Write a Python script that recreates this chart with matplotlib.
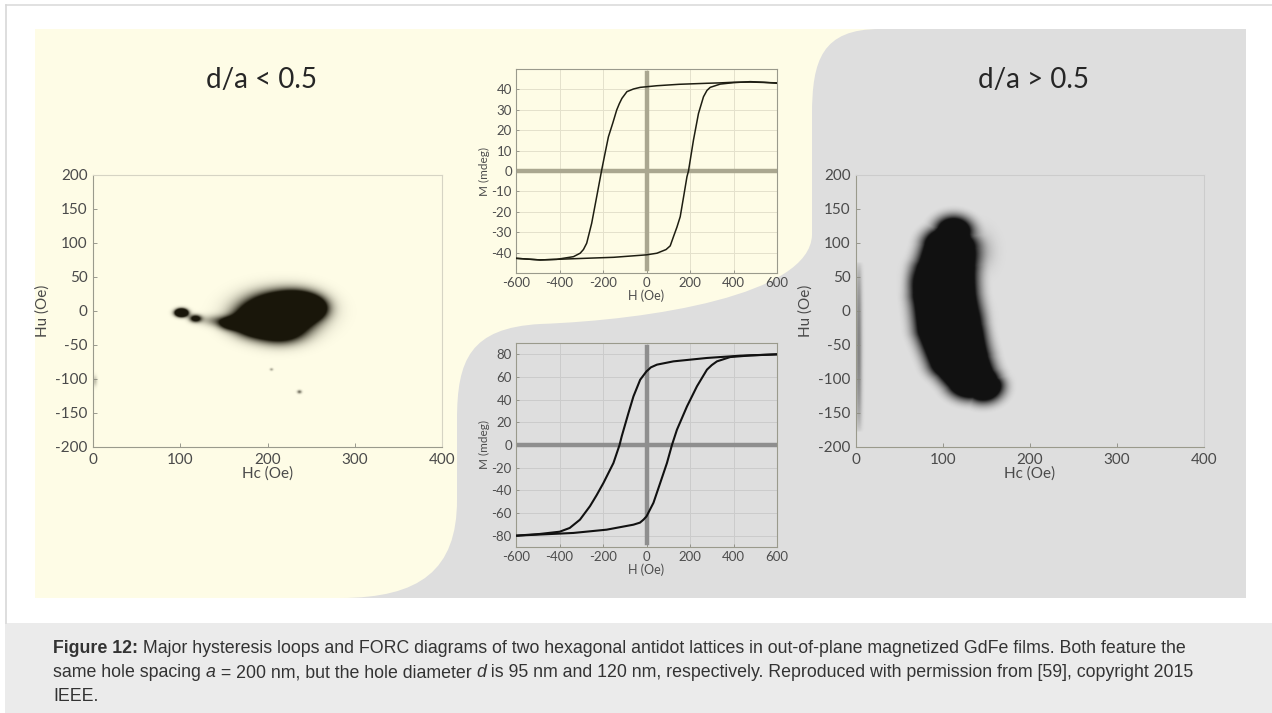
import numpy as np
import matplotlib.pyplot as plt
from matplotlib.path import Path
from matplotlib.patches import PathPatch, Rectangle

plt.rcParams['font.family'] = ['Lato', 'DejaVu Sans']
plt.rcParams['axes.unicode_minus'] = False

W, H = 1272, 713

# ---------------------
# data
# ---------------------
# hysteresis loop, d/a < 0.5 (top)
top_desc_h = [600, 540, 478, 400, 339, 278, 150, 48, 0, -29, -60, -90, -113, -125, -137, -155, -175, -190, -206, -229, -252, -275, -290, -305, -336, -413, -489, -600]
top_desc_m = [43.2, 43.4, 43.6, 43.5, 43.2, 43.0, 42.5, 41.8, 41.3, 41.0, 40.2, 38.9, 35.6, 33.0, 29.9, 23.5, 16.8, 9.0, 0.5, -12.6, -25.6, -35.4, -38.5, -40.3, -42.0, -43.3, -43.6, -42.8]
top_asc_h = [-600, -489, -336, -150, 0, 48, 90, 109, 124, 140, 155, 170, 186, 193, 216, 239, 262, 278, 293, 339, 400, 477, 540, 600]
top_asc_m = [-42.8, -43.6, -43.0, -42.3, -41.1, -40.3, -38.5, -36.7, -32.2, -27.5, -22.4, -13.0, -2.8, 0.0, 15.2, 28.2, 36.4, 39.5, 41.0, 42.6, 43.3, 43.8, 43.5, 43.0]

# hysteresis loop, d/a > 0.5 (bottom)
bot_desc_h = [600, 431, 278, 124, 48, 20, 9, 0, -29, -60, -83, -114, -124, -152, -198, -230, -260, -306, -353, -399, -491, -600]
bot_desc_m = [80, 78.8, 76.8, 73.8, 70.9, 68.5, 66.5, 65, 57.6, 42.9, 28.2, 7.6, 0, -15.9, -33.5, -44.5, -54, -65.9, -73.2, -76.5, -78.5, -80]
bot_asc_h = [-600, -491, -336, -183, -60, -30, -14, 0, 32, 63, 94, 117, 140, 186, 232, 278, 300, 324, 385, 477, 600]
bot_asc_m = [-80, -79, -77.6, -74.7, -70.3, -68.5, -65.9, -63, -51, -33.5, -15.9, 0, 13.5, 34, 51.8, 66.5, 70.5, 73.8, 77.6, 79, 80]

# FORC d/a < 0.5: gaussian patches (Hc, Hu, width Hc, width Hu, strength)
left_hc = [212, 182, 236, 214, 252, 160, 101, 117, 138, 152, 204, 236, 2]
left_hu = [-3, -18, 8, -32, 4, -18, -2.5, -11, -14, -19, -86, -119, -103]
left_sx = [27, 16, 18, 20, 11, 9, 5, 5, 12, 8, 1.5, 2, 2]
left_sy = [19, 13, 14, 13, 10, 7, 4, 4, 6, 6, 1.5, 2, 6]
left_amp = [3.0, 1.4, 1.6, 1.0, 0.8, 0.7, 3.0, 1.3, 0.45, 0.5, 0.5, 0.7, 0.35]

# FORC d/a > 0.5: crescent ridge (Hc, Hu, half width)
right_hc = [112, 106, 103, 102, 106, 118, 132, 146]
right_hu = [118, 95, 60, 20, -25, -70, -100, -113]
right_hw = [18, 27, 32, 35, 35, 33, 27, 18]
# soft halo patches around the ridge
halo_hc = [140, 158, 66, 142]
halo_hu = [88, -106, 45, -20]
halo_sx = [11, 9, 7, 8]
halo_sy = [18, 9, 16, 20]
halo_amp = [0.35, 0.4, 0.3, 0.25]
# faint stripe near Hc = 0
stripe_hc = [3, 3]
stripe_hu = [72, -178]

top_ticks = [-40, -30, -20, -10, 0, 10, 20, 30, 40]
bot_ticks = [-80, -60, -40, -20, 0, 20, 40, 60, 80]
h_ticks = [-600, -400, -200, 0, 200, 400, 600]
forc_xticks = [0, 100, 200, 300, 400]
forc_yticks = [-200, -150, -100, -50, 0, 50, 100, 150, 200]

YELLOW = '#fefce6'
GREY = '#dedede'

fig = plt.figure(figsize=(W / 100, H / 100), dpi=100)
fig.patch.set_facecolor('white')


def px_axes(x0, y0, x1, y1):
    return fig.add_axes([x0 / W, 1 - y1 / H, (x1 - x0) / W, (y1 - y0) / H])


# ---------------------
# background panel
# ---------------------
bg = fig.add_axes([0, 0, 1, 1])
bg.set_xlim(0, W)
bg.set_ylim(H, 0)
bg.axis('off')
bg.plot([6, W], [5, 5], color='#dcdcdc', lw=1.2)
bg.plot([6, 6], [5, 623], color='#d8d8d8', lw=1.2)
bg.add_patch(Rectangle((5, 623), W - 5, 90, facecolor='#ebebeb', edgecolor='none'))
bg.add_patch(Rectangle((35, 29), 1211, 569, facecolor=YELLOW, edgecolor='none'))

verts = [(1246, 29), (880, 29),
         (822, 29), (812, 60), (812, 115),
         (812, 235),
         (810, 295), (650, 320), (540, 324),
         (470, 328), (457, 360), (457, 420),
         (457, 500),
         (457, 570), (420, 598), (340, 598),
         (1246, 598), (1246, 29)]
codes = [Path.MOVETO, Path.LINETO,
         Path.CURVE4, Path.CURVE4, Path.CURVE4,
         Path.LINETO,
         Path.CURVE4, Path.CURVE4, Path.CURVE4,
         Path.CURVE4, Path.CURVE4, Path.CURVE4,
         Path.LINETO,
         Path.CURVE4, Path.CURVE4, Path.CURVE4,
         Path.LINETO, Path.CLOSEPOLY]
bg.add_patch(PathPatch(Path(verts, codes), facecolor=GREY, edgecolor='none'))

bg.text(262, 80, 'd/a < 0.5', fontsize=20, color='#262626', ha='center', va='center')
bg.text(1034, 80, 'd/a > 0.5', fontsize=20, color='#262626', ha='center', va='center')


# ---------------------
# hysteresis loops
# ---------------------
def loop_axes(ax, face, grid_c, zero_c, ticks, ylim, dh, dm, ah, am, lc, lw):
    ax.set_facecolor(face)
    ax.set_xlim(-600, 600)
    ax.set_ylim(*ylim)
    ax.set_xticks(h_ticks)
    ax.set_yticks(ticks)
    ax.grid(True, color=grid_c, lw=0.7)
    ax.set_axisbelow(True)
    ax.axhline(0, xmin=0.005, xmax=0.995, color=zero_c, lw=3.2, zorder=2)
    ax.axvline(0, ymin=0.02, ymax=0.98, color=zero_c, lw=3.2, zorder=2)
    ax.plot(dh, dm, color=lc, lw=lw, zorder=3)
    ax.plot(ah, am, color=lc, lw=lw, zorder=3)
    for s in ax.spines.values():
        s.set_color('#9a9a8c')
        s.set_linewidth(0.8)
    ax.tick_params(direction='in', length=2.5, width=0.6, color='#8a8a80',
                   labelsize=9.5, labelcolor='#4d4d4d', pad=3)
    ax.set_xlabel('H (Oe)', fontsize=9, color='#4d4d4d', labelpad=0)
    ax.set_ylabel('M (mdeg)', fontsize=8.5, color='#4d4d4d', labelpad=1)


ax_t = px_axes(516, 69, 777, 273)
loop_axes(ax_t, YELLOW, '#e4e1cc', '#aaa790', top_ticks, (-50, 50),
          top_desc_h, top_desc_m, top_asc_h, top_asc_m, '#1e1e12', 1.1)

ax_b = px_axes(516, 343, 777, 547)
loop_axes(ax_b, GREY, '#cbcbcb', '#8e8e8e', bot_ticks, (-90, 90),
          bot_desc_h, bot_desc_m, bot_asc_h, bot_asc_m, '#111111', 1.5)


# ---------------------
# FORC diagrams
# ---------------------
hc = np.linspace(0, 400, 801)
hu = np.linspace(-200, 200, 801)
HC, HU = np.meshgrid(hc, hu)


def forc_axes(ax, face, dens, dark):
    ax.set_facecolor(face)
    rgba = np.zeros(dens.shape + (4,))
    rgba[..., :3] = dark
    rgba[..., 3] = dens
    ax.imshow(rgba, extent=(0, 400, -200, 200), origin='lower',
              aspect='auto', interpolation='bilinear', zorder=1)
    ax.set_xlim(0, 400)
    ax.set_ylim(-200, 200)
    ax.set_xticks(forc_xticks)
    ax.set_yticks(forc_yticks)
    ax.spines['left'].set_color('#9a9a8c')
    ax.spines['bottom'].set_color('#9a9a8c')
    ax.spines['top'].set_color('#d6d4c4')
    ax.spines['right'].set_color('#d6d4c4')
    for s in ax.spines.values():
        s.set_linewidth(0.8)
    ax.tick_params(direction='in', length=3, width=0.6, color='#8a8a80',
                   labelsize=11, labelcolor='#4a4a4a', pad=4)
    ax.set_xlabel('Hc (Oe)', fontsize=11, color='#4a4a4a', labelpad=0)
    ax.set_ylabel('Hu (Oe)', fontsize=11, color='#4a4a4a', labelpad=4)


def gauss_sum(xs, ys, sxs, sys_, amps):
    out = np.zeros_like(HC)
    for x0, y0, sx, sy, a in zip(xs, ys, sxs, sys_, amps):
        out += a * np.exp(-((HC - x0) ** 2 / (2 * sx ** 2) + (HU - y0) ** 2 / (2 * sy ** 2)))
    return out


dens_l = np.clip(gauss_sum(left_hc, left_hu, left_sx, left_sy, left_amp), 0, 1) ** 1.3

ax_l = px_axes(93, 175, 442, 447)
forc_axes(ax_l, YELLOW, dens_l, (0.10, 0.09, 0.04))

# distance to the ridge line, with a varying half width
val = np.full(HC.shape, -1e9)
for i in range(len(right_hc) - 1):
    x0, y0, x1, y1 = right_hc[i], right_hu[i], right_hc[i + 1], right_hu[i + 1]
    dx, dy = x1 - x0, y1 - y0
    t = np.clip(((HC - x0) * dx + (HU - y0) * dy) / (dx * dx + dy * dy), 0, 1)
    d = np.hypot(HC - (x0 + t * dx), HU - (y0 + t * dy))
    hw = right_hw[i] + t * (right_hw[i + 1] - right_hw[i])
    val = np.maximum(val, hw - d)
dens_r = np.clip(1 + val / 22, 0, 1) ** 2.3
dens_r = np.clip(dens_r + gauss_sum(halo_hc, halo_hu, halo_sx, halo_sy, halo_amp), 0, 1)
# faint stripe along Hc = 0
t = np.clip((HU - stripe_hu[1]) / (stripe_hu[0] - stripe_hu[1]), 0, 1)
inside = (HU <= stripe_hu[0]) & (HU >= stripe_hu[1])
stripe = 0.45 * np.exp(-(HC - stripe_hc[0]) ** 2 / (2 * 2.5 ** 2)) * inside * np.sin(np.pi * t) ** 0.5
dens_r = np.maximum(dens_r, stripe)

ax_r = px_axes(856, 175, 1204, 447)
forc_axes(ax_r, GREY, dens_r, (0.07, 0.07, 0.07))
ax_r.spines['top'].set_color('#cccccc')
ax_r.spines['right'].set_color('#cccccc')


# ---------------------
# caption
# ---------------------
renderer = fig.canvas.get_renderer()
cap_font = ['Liberation Sans', 'DejaVu Sans']
cap_size = 12.8
lines = [
    [('Figure 12:', 'bold', 'normal'),
     (' Major hysteresis loops and FORC diagrams of two hexagonal antidot lattices in out-of-plane magnetized GdFe films. Both feature the', 'normal', 'normal')],
    [('same hole spacing ', 'normal', 'normal'), ('a', 'normal', 'italic'),
     (' = 200 nm, but the hole diameter ', 'normal', 'normal'), ('d', 'normal', 'italic'),
     (' is 95 nm and 120 nm, respectively. Reproduced with permission from [59], copyright 2015', 'normal', 'normal')],
    [('IEEE.', 'normal', 'normal')],
]
line_y = [653, 677, 701]
for runs, y in zip(lines, line_y):
    x = 53
    for txt, wgt, sty in runs:
        t_obj = bg.text(x, y, txt, fontsize=cap_size, family=cap_font, weight=wgt,
                        style=sty, color='#333333', va='baseline', ha='left')
        x += t_obj.get_window_extent(renderer).width

fig.savefig('out.png', dpi=100, facecolor='white')
